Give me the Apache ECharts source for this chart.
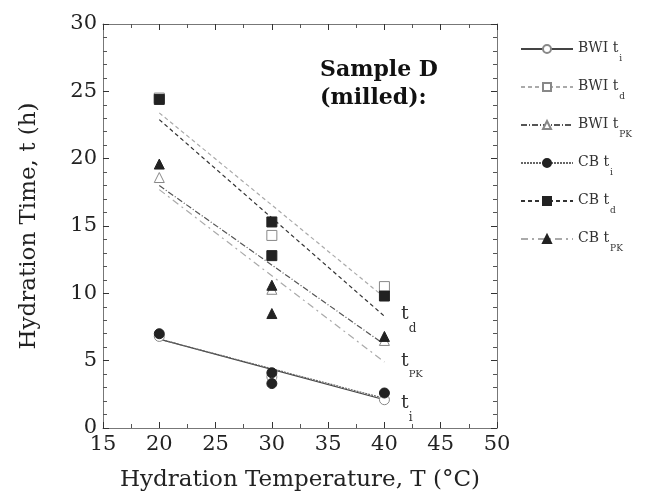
<!DOCTYPE html>
<html><head><meta charset="utf-8">
<script src="https://cdn.jsdelivr.net/npm/echarts@6/dist/echarts.min.js"></script>
<style>html,body{margin:0;padding:0;background:#fff}#c{width:648px;height:497px}</style>
</head><body><div id="c"></div>
<script>
// ---- data ----
const seriesNames = ['BWI ti','BWI td','BWI tPK','CB ti','CB td','CB tPK'];
const seriesBase  = ['BWI t','BWI t','BWI t','CB t','CB t','CB t'];
const seriesSub   = ['i','d','PK','i','d','PK'];

// measured points [T, t]
const bwiTi  = [[20,6.8],[30,3.8],[40,2.1]];
const bwiTd  = [[20,24.5],[30,14.3],[40,10.5]];
const bwiTpk = [[20,18.6],[30,10.3],[40,6.5]];
const cbTi   = [[20,7.0],[30,4.1],[30,3.3],[40,2.6]];
const cbTd   = [[20,24.4],[30,15.3],[30,12.8],[40,9.8]];
const cbTpk  = [[20,19.6],[30,10.6],[30,8.5],[40,6.8]];

// fitted lines (end points)
const bwiTiFit  = [[20,6.6],[40,2.1]];
const bwiTdFit  = [[20,23.4],[40,9.7]];
const bwiTpkFit = [[20,18.0],[40,6.2]];
const cbTiFit   = [[20,6.6],[40,2.2]];
const cbTdFit   = [[20,22.9],[40,8.3]];
const cbTpkFit  = [[20,17.7],[40,4.9]];

const xTicks = [15,20,25,30,35,40,45,50];
const yTicks = [0,5,10,15,20,25,30];

const points = [bwiTi,bwiTd,bwiTpk,cbTi,cbTd,cbTpk];
const fits   = [bwiTiFit,bwiTdFit,bwiTpkFit,cbTiFit,cbTdFit,cbTpkFit];

// ---- styling ----
const FONT = 'DejaVu Serif';
const symbols = ['circle','rect','triangle','circle','rect','triangle'];
const markerFill = ['#fff','#fff','#fff','#222','#222','#222'];
const markerEdge = ['#888','#888','#888','#222','#222','#222'];
const lineColor  = ['#444','#aaa','#555','#666','#333','#aaa'];
const lineType   = ['solid',[4,3],[6,2,1,2],[2,1],[4,3],[7,4,2,4]];

const series = [];
for (let i = 0; i < 6; i++) {
  series.push({
    name: seriesNames[i], type: 'line', data: fits[i],
    symbol: symbols[i], symbolSize: 9, showSymbol: false,
    lineStyle: {color: lineColor[i], width: 1.2, type: lineType[i]},
    itemStyle: {color: markerFill[i], borderColor: markerEdge[i], borderWidth: 1},
    silent: true, z: 2
  });
}
for (let i = 0; i < 6; i++) {
  series.push({
    name: seriesNames[i], type: 'scatter', data: points[i],
    symbol: symbols[i], symbolSize: 10,
    itemStyle: {color: markerFill[i], borderColor: markerEdge[i], borderWidth: 1, opacity: 1},
    z: i < 3 ? 3 : 4
  });
}

const legends = seriesNames.map((n, i) => ({
  data: [n], orient: 'vertical', left: 515, top: 36 + i * 38,
  itemWidth: 52, itemHeight: 10, itemGap: 0,
  selectedMode: false,
  textStyle: {
    fontFamily: FONT, color: '#333',
    rich: {
      a: {fontFamily: FONT, fontSize: 14, color: '#333', lineHeight: 16, verticalAlign: 'top'},
      s: {fontFamily: FONT, fontSize: 9, color: '#333', lineHeight: 9, padding: [13, 0, 0, 1], verticalAlign: 'top'}
    }
  },
  formatter: () => '{a|' + seriesBase[i] + '}{s|' + seriesSub[i] + '}'
}));

const tickAxisCommon = {
  axisLine: {show: true, onZero: false, lineStyle: {color: '#777', width: 1}},
  axisTick: {show: true, inside: true, length: 6, lineStyle: {color: '#333'}},
  splitLine: {show: false}
};

const option = {
  animation: false,
  backgroundColor: '#fff',
  grid: {left: 103, right: 151, top: 24, bottom: 67, show: false},
  xAxis: [{
    type: 'value', min: 15, max: 50, interval: 5,
    name: 'Hydration Temperature, T (°C)', nameLocation: 'middle', nameGap: 41,
    nameTextStyle: {fontFamily: FONT, fontSize: 23, color: '#222'},
    ...tickAxisCommon,
    minorTick: {show: true, splitNumber: 2, length: 4, lineStyle: {color: '#555'}},
    axisLabel: {fontFamily: FONT, fontSize: 21, color: '#222', margin: 6,
      formatter: v => xTicks.includes(v) ? String(v) : ''}
  }, {
    type: 'value', min: 15, max: 50, interval: 5, position: 'top',
    ...tickAxisCommon,
    minorTick: {show: true, splitNumber: 2, length: 4, lineStyle: {color: '#555'}},
    axisLabel: {show: false}
  }],
  yAxis: [{
    type: 'value', min: 0, max: 30, interval: 5,
    name: 'Hydration Time, t (h)', nameLocation: 'middle', nameGap: 62,
    nameTextStyle: {fontFamily: FONT, fontSize: 23, color: '#222'},
    ...tickAxisCommon,
    minorTick: {show: true, splitNumber: 5, length: 4, lineStyle: {color: '#555'}},
    axisLabel: {fontFamily: FONT, fontSize: 21, color: '#222', margin: 6,
      formatter: v => yTicks.includes(v) ? String(v) : ''}
  }, {
    type: 'value', min: 0, max: 30, interval: 5, position: 'right',
    ...tickAxisCommon,
    minorTick: {show: true, splitNumber: 5, length: 4, lineStyle: {color: '#555'}},
    axisLabel: {show: false}
  }],
  legend: legends,
  series: series,
  graphic: [
    {type: 'text', left: 320, top: 56, style: {text: 'Sample D\n(milled):', font: 'bold 22px "DejaVu Serif"', fill: '#111', lineHeight: 28}},
    {type: 'text', left: 401, top: 305, style: {text: '{a|t}{s|d}', rich: {a: {fontFamily: FONT, fontSize: 19, fill: '#333', lineHeight: 20, verticalAlign: 'top'}, s: {fontFamily: FONT, fontSize: 12, fill: '#333', padding: [18,0,0,0], verticalAlign: 'top'}}}},
    {type: 'text', left: 401, top: 352, style: {text: '{a|t}{s|PK}', rich: {a: {fontFamily: FONT, fontSize: 19, fill: '#333', lineHeight: 20, verticalAlign: 'top'}, s: {fontFamily: FONT, fontSize: 10, fill: '#333', padding: [17,0,0,0], verticalAlign: 'top'}}}},
    {type: 'text', left: 401, top: 394, style: {text: '{a|t}{s|i}', rich: {a: {fontFamily: FONT, fontSize: 19, fill: '#333', lineHeight: 20, verticalAlign: 'top'}, s: {fontFamily: FONT, fontSize: 12, fill: '#333', padding: [18,0,0,0], verticalAlign: 'top'}}}}
  ]
};
const chart = echarts.init(document.getElementById('c'), null, {renderer: 'canvas'});
chart.setOption(option);
</script></body></html>
